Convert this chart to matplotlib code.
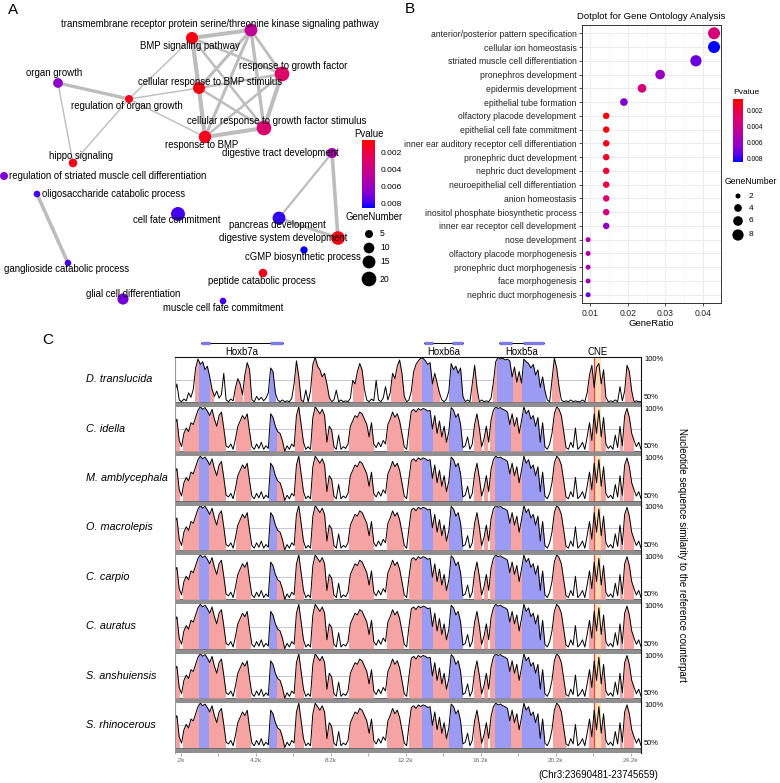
import numpy as np
import matplotlib
matplotlib.use("Agg")
import matplotlib.pyplot as plt
from matplotlib.colors import LinearSegmentedColormap, Normalize
from matplotlib.patches import Rectangle
from matplotlib.cm import ScalarMappable

plt.rcParams['font.family'] = ['Liberation Sans', 'DejaVu Sans']

# ---------------- panel A: GO network ----------------
net_terms = ["transmembrane receptor protein serine/threonine kinase signaling pathway",
             "BMP signaling pathway", "response to growth factor", "organ growth",
             "cellular response to BMP stimulus", "regulation of organ growth",
             "cellular response to growth factor stimulus", "response to BMP",
             "hippo signaling", "digestive tract development",
             "regulation of striated muscle cell differentiation",
             "oligosaccharide catabolic process", "cell fate commitment",
             "pancreas development", "digestive system development",
             "cGMP biosynthetic process", "ganglioside catabolic process",
             "peptide catabolic process", "glial cell differentiation",
             "muscle cell fate commitment"]
net_pvalue = [0.0045, 0.0010, 0.0030, 0.0065, 0.0010, 0.0012, 0.0032, 0.0012, 0.0012, 0.0055,
              0.0068, 0.0078, 0.0078, 0.0080, 0.0010, 0.0085, 0.0078, 0.0012, 0.0070, 0.0078]
net_genes = [15, 13, 20, 8, 13, 5, 20, 14, 6, 9, 5, 3, 18, 15, 17, 4, 3, 6, 11, 3]
# layout coordinates of the network (as drawn by the layout algorithm)
node_x = [251, 192, 282, 58, 199, 129, 264, 205, 73, 332, 4, 37, 178, 279, 338, 304, 68, 263, 123, 223]
node_y = [30, 38, 74, 83, 88, 99, 128, 137, 163, 153, 176, 194, 214, 218, 238, 250, 263, 273, 299, 301]
label_x = [220, 190, 293, 54, 210, 127, 277, 202, 81, 280, 108, 114, 177, 277, 283, 303, 67, 262, 133, 223]
label_y = [24, 46, 66, 73, 82, 106, 121, 145, 156, 153, 176, 194, 220, 225, 238, 257, 269, 281, 294, 308]
edges = [(3, 5, 2.4), (3, 8, 1.0), (5, 8, 1.0), (5, 1, 1.0), (5, 4, 1.0), (5, 7, 1.0),
         (1, 0, 2.9), (1, 4, 2.9), (1, 7, 2.5), (1, 2, 1.8), (1, 6, 1.8),
         (0, 2, 2.0), (0, 4, 2.2), (0, 6, 2.4), (0, 7, 2.2),
         (2, 4, 1.8), (2, 6, 2.9), (2, 7, 1.8), (4, 6, 1.8), (4, 7, 2.9), (6, 7, 2.9),
         (9, 13, 1.6), (9, 14, 2.6), (13, 14, 2.2), (11, 16, 2.6)]
net_legend_genes = [5, 10, 15, 20]

# ---------------- panel B: dotplot ----------------
dot_terms = ["anterior/posterior pattern specification", "cellular ion homeostasis",
             "striated muscle cell differentiation", "pronephros development",
             "epidermis development", "epithelial tube formation",
             "olfactory placode development", "epithelial cell fate commitment",
             "inner ear auditory receptor cell differentiation", "pronephric duct development",
             "nephric duct development", "neuroepithelial cell differentiation",
             "anion homeostasis", "inositol phosphate biosynthetic process",
             "inner ear receptor cell development", "nose development",
             "olfactory placode morphogenesis", "pronephric duct morphogenesis",
             "face morphogenesis", "nephric duct morphogenesis"]
dot_ratio = [0.0429, 0.0429, 0.0381, 0.0286, 0.0238, 0.0190, 0.0143, 0.0143, 0.0143, 0.0143,
             0.0143, 0.0143, 0.0143, 0.0143, 0.0143, 0.0095, 0.0095, 0.0095, 0.0095, 0.0095]
dot_genes = [9, 9, 8, 6, 5, 4, 3, 3, 3, 3, 3, 3, 3, 3, 3, 2, 2, 2, 2, 2]
dot_pvalue = [0.0035, 0.0085, 0.0072, 0.0062, 0.0035, 0.0068, 0.0008, 0.0009, 0.0011, 0.0015,
              0.0018, 0.0020, 0.0032, 0.0036, 0.0062, 0.0052, 0.0052, 0.0054, 0.0056, 0.0072]
dot_legend_genes = [2, 4, 6, 8]

# ---------------- panel C: VISTA plot ----------------
species = ["D. translucida", "C. idella", "M. amblycephala", "O. macrolepis",
           "C. carpio", "C. auratus", "S. anshuiensis", "S. rhinocerous"]
track_profile = ["translucida", "cyprinid", "cyprinid", "cyprinid",
                 "cyprinid", "cyprinid", "cyprinid", "cyprinid"]
sim_step = 0.125   # kb between similarity windows, first window at -0.125 kb
sim_translucida = [
    60, 70, 52, 50, 53, 51, 60, 55, 64, 88, 98, 92, 95, 86, 90, 78, 64, 56, 62, 54,
    58, 82, 52, 50, 53, 51, 66, 76, 70, 58, 80, 94, 86, 52, 50, 56, 52, 55, 51, 54,
    60, 88, 84, 60, 52, 50, 52, 50, 51, 50, 54, 70, 96, 78, 52, 50, 63, 50, 62, 92,
    100, 90, 86, 78, 82, 70, 55, 50, 52, 63, 50, 52, 50, 51, 50, 54, 74, 70, 84, 93,
    86, 64, 52, 50, 53, 51, 74, 52, 50, 54, 67, 52, 60, 82, 76, 90, 97, 82, 56, 50,
    52, 62, 84, 92, 96, 99, 99, 96, 92, 94, 70, 82, 71, 60, 52, 50, 53, 62, 93, 86,
    90, 82, 88, 56, 50, 52, 50, 70, 91, 66, 50, 52, 50, 51, 50, 54, 72, 95, 100, 98,
    99, 97, 98, 96, 78, 89, 72, 84, 71, 98, 95, 93, 88, 92, 80, 86, 66, 78, 62, 52,
    50, 74, 99, 88, 67, 52, 50, 51, 50, 52, 50, 51, 50, 50, 52, 50, 60, 80, 91, 66,
    89, 93, 70, 86, 55, 50, 51, 50, 52, 50, 67, 51, 62, 91, 84, 62, 50, 51, 50, 50]
sim_cyprinid = [
    80, 86, 62, 55, 70, 76, 72, 82, 80, 88, 96, 100, 97, 99, 95, 90, 97, 86, 78, 90,
    94, 76, 56, 54, 58, 52, 64, 78, 84, 90, 86, 92, 72, 55, 52, 58, 53, 60, 52, 56,
    53, 92, 88, 78, 72, 70, 62, 50, 56, 52, 58, 55, 90, 100, 80, 60, 52, 55, 52, 88,
    100, 96, 92, 97, 90, 60, 78, 74, 55, 52, 68, 52, 55, 53, 58, 78, 84, 90, 88, 94,
    92, 86, 80, 66, 82, 58, 54, 60, 55, 62, 58, 80, 86, 94, 88, 92, 84, 70, 55, 52,
    75, 95, 97, 94, 98, 96, 98, 97, 95, 96, 75, 90, 70, 84, 66, 78, 60, 72, 99, 96,
    88, 92, 80, 54, 56, 66, 52, 58, 80, 92, 76, 55, 64, 78, 60, 85, 96, 100, 98, 99,
    97, 96, 94, 80, 92, 78, 88, 70, 84, 100, 92, 96, 86, 90, 78, 88, 60, 82, 55, 52,
    58, 70, 92, 100, 97, 90, 72, 54, 52, 60, 54, 76, 52, 55, 60, 52, 66, 82, 62, 92,
    70, 96, 66, 88, 58, 53, 56, 52, 68, 54, 78, 56, 90, 98, 88, 70, 62, 55, 60, 52]
cns_translucida = [(0.95, 1.19), (1.72, 1.95), (3.1, 3.45), (3.6, 3.92), (6.28, 6.6), (7.18, 8.1),
                   (9.4, 9.95), (11.4, 12.1), (12.55, 13.05), (13.6, 14.0), (15.72, 16.0),
                   (16.85, 17.05), (17.85, 18.4), (19.98, 20.36), (21.94, 22.8), (23.9, 24.25)]
exon_translucida = [(1.19, 1.72), (4.9, 5.25), (13.05, 13.6), (14.5, 15.27), (17.05, 17.85), (18.4, 19.63)]
cns_cyprinid = [(-0.1, 0.1), (0.35, 1.19), (1.68, 2.55), (3.15, 3.9), (5.3, 5.72), (6.3, 6.72),
                (7.2, 8.3), (9.2, 10.45), (11.2, 12.05), (12.35, 13.05), (13.6, 14.5), (15.85, 16.2),
                (16.4, 16.55), (16.7, 16.95), (17.75, 18.4), (20.05, 20.7), (21.95, 22.85),
                (23.6, 23.72), (23.85, 24.3)]
exon_cyprinid = [(1.19, 1.68), (4.9, 5.3), (13.05, 13.6), (14.5, 15.2), (16.95, 17.75), (18.4, 19.6)]
genes = ["Hoxb7a", "Hoxb6a", "Hoxb5a"]
gene_exons = [[(1.26, 1.76), (4.96, 5.64)],
              [(13.17, 13.65), (14.67, 15.25)],
              [(17.17, 17.87), (18.45, 19.57)]]
cne_start, cne_end = 22.26, 22.62
tick_kb = [0.2, 4.2, 8.2, 12.2, 16.2, 20.2, 24.2]
tick_labels = [".2k", "4.2k", "8.2k", "12.2k", "16.2k", "20.2k", "24.2k"]
minor_kb = [2.2, 6.2, 10.2, 14.2, 18.2, 22.2]

profiles = {"translucida": sim_translucida, "cyprinid": sim_cyprinid}
cns = {"translucida": cns_translucida, "cyprinid": cns_cyprinid}
exons = {"translucida": exon_translucida, "cyprinid": exon_cyprinid}

W, H = 780, 783


def rect(x0, y0, x1, y1):
    return [x0 / W, 1 - y1 / H, (x1 - x0) / W, (y1 - y0) / H]


cmap = LinearSegmentedColormap.from_list(
    'pv', [(0, '#FF0000'), (0.25, '#E4005C'), (0.5, '#C00097'),
           (0.75, '#8E00CC'), (0.9, '#5000EB'), (1, '#0000FF')])
norm = Normalize(vmin=0.0006, vmax=0.0085)


def size_a(n):
    d = np.sqrt(13.5 + 10.1 * np.asarray(n, dtype=float))
    return (d * 0.72) ** 2


def size_b(n):
    d = np.sqrt(17 * np.asarray(n, dtype=float) - 9)
    return (d * 0.72) ** 2


fig = plt.figure(figsize=(W / 100, H / 100), dpi=100)

# ---- A ----
axA = fig.add_axes(rect(0, 0, 390, 380))
axA.set_xlim(0, 390)
axA.set_ylim(380, 0)
axA.axis('off')
for a, b, w in edges:
    axA.plot([node_x[a], node_x[b]], [node_y[a], node_y[b]], color='#BDBDBD',
             lw=w, solid_capstyle='round', zorder=1)
axA.scatter(node_x, node_y, s=size_a(net_genes), c=net_pvalue, cmap=cmap, norm=norm,
            linewidths=0, zorder=2)
for t, lx, ly in zip(net_terms, label_x, label_y):
    axA.text(lx, ly, t, fontsize=6.9, ha='center', va='center', zorder=3)

caxA = fig.add_axes(rect(362, 140, 375, 208))
cbA = fig.colorbar(ScalarMappable(norm=norm, cmap=cmap), cax=caxA)
cbA.set_ticks([0.002, 0.004, 0.006, 0.008])
cbA.set_ticklabels(['0.002', '0.004', '0.006', '0.008'])
caxA.invert_yaxis()
cbA.outline.set_visible(False)
caxA.tick_params(labelsize=6, length=0, pad=4)

# ---- B ----
axB = fig.add_axes(rect(582, 25, 721, 303))
rows = np.arange(1, len(dot_terms) + 1)
axB.set_xlim(0.00788, 0.04475)
axB.set_ylim(20.6, 0.4)
axB.set_axisbelow(True)
axB.set_xticks([0.01, 0.02, 0.03, 0.04])
axB.set_xticklabels(['0.01', '0.02', '0.03', '0.04'])
axB.set_xticks([0.015, 0.025, 0.035], minor=True)
axB.set_yticks(rows)
axB.set_yticklabels(dot_terms)
axB.grid(True, which='major', color='#EBEBEB', lw=0.7)
axB.grid(True, which='minor', axis='x', color='#F2F2F2', lw=0.4)
axB.tick_params(which='major', labelsize=6.2, length=2.5, width=0.6, color='#333333',
                labelcolor='#222222', pad=1.5)
axB.tick_params(which='minor', length=0)
for s in axB.spines.values():
    s.set_color('#333333')
    s.set_linewidth(0.7)
axB.scatter(dot_ratio, rows, s=size_b(dot_genes), c=dot_pvalue, cmap=cmap, norm=norm,
            linewidths=0, zorder=3)
axB.set_xlabel('GeneRatio', fontsize=6.8, labelpad=1)
axB.set_title('Dotplot for Gene Ontology Analysis', fontsize=6.8, pad=4)

caxB = fig.add_axes(rect(733, 99, 743, 162))
cbB = fig.colorbar(ScalarMappable(norm=norm, cmap=cmap), cax=caxB)
cbB.set_ticks([0.002, 0.004, 0.006, 0.008])
cbB.set_ticklabels(['0.002', '0.004', '0.006', '0.008'])
caxB.invert_yaxis()
cbB.outline.set_visible(False)
caxB.tick_params(labelsize=4.8, length=0, pad=3)

# ---- C ----
track_top0 = 357.3
track_h = 49.4
x_left, x_right = 175, 640.7
for i, sp in enumerate(species):
    top = track_top0 + i * track_h
    ax = fig.add_axes(rect(x_left, top, x_right, top + track_h))
    ax.set_xlim(-0.1, 24.73)
    ax.set_ylim(44.4, 100)
    key = track_profile[i]
    vals = np.maximum(np.array(profiles[key], dtype=float), 50)
    xs = -sim_step + sim_step * np.arange(len(vals))
    ax.axhspan(44.4, 50, facecolor='#8F8F8F', edgecolor='#5A5A5A', lw=0.6, zorder=1)
    ax.axhline(75, color='#C9C9DE', lw=0.8, zorder=0.5)
    for intervals, col in ((cns[key], '#F6A3A3'), (exons[key], '#9B9BF4')):
        for a, b in intervals:
            poly = ax.fill_between(xs, 50, vals, color=col, lw=0, zorder=1.5)
            clip = Rectangle((a, 50), b - a, 50, transform=ax.transData)
            poly.set_clip_path(clip)
    ax.fill_between([cne_start, cne_end], 50, 100, color='#FDE1B2', alpha=0.85, lw=0, zorder=1.8)
    ax.plot([cne_start, cne_start], [50, 100], color='#E04545', lw=0.9, zorder=1.9)
    ax.plot(xs, vals, color='black', lw=0.7, zorder=2)
    ax.spines['bottom'].set_visible(False)
    ax.spines['left'].set_color('#9A9A9A')
    ax.spines['right'].set_color('#111111')
    ax.spines['top'].set_color('#111111')
    for s in ('left', 'right', 'top'):
        ax.spines[s].set_linewidth(0.8)
    if i > 0:
        ax.spines['top'].set_visible(False)
    ax.set_yticks([])
    if i == len(species) - 1:
        ax.set_xticks(tick_kb)
        ax.set_xticklabels(tick_labels)
        ax.set_xticks(minor_kb, minor=True)
        ax.tick_params(axis='x', which='both', labelsize=4.6, length=2, width=0.5,
                       color='#888888', labelcolor='#666666', pad=2)
    else:
        ax.set_xticks([])
    fig.text(86 / W, 1 - (top + 22) / H, sp, fontsize=7.8, style='italic', ha='left', va='center')
    fig.text(644 / W, 1 - (top + 2.5) / H, '100%', fontsize=5.4, ha='left', va='center')
    fig.text(644 / W, 1 - (top + 40) / H, '50%', fontsize=5.4, ha='left', va='center')

axG = fig.add_axes(rect(x_left, 336, x_right, 357))
axG.set_xlim(-0.1, 24.73)
axG.set_ylim(21, 0)
axG.axis('off')
for g, ex in zip(genes, gene_exons):
    g0, g1 = ex[0][0], ex[-1][1]
    axG.plot([g0, g1], [7, 7], color='black', lw=0.7, zorder=1)
    for a, b in ex:
        axG.plot([a, b], [7, 7], color='#7B7BE6', lw=2.4, solid_capstyle='butt', zorder=2)
    axG.text((g0 + g1) / 2, 16, g, fontsize=6.9, ha='center', va='center')
axG.text((cne_start + cne_end) / 2, 16, 'CNE', fontsize=6.9, ha='center', va='center')

# ---- overlay: panel letters, legends, outer labels ----
ov = fig.add_axes([0, 0, 1, 1])
ov.set_xlim(0, W)
ov.set_ylim(H, 0)
ov.axis('off')
ov.text(13, 10, 'A', fontsize=11, ha='center', va='center')
ov.text(410, 9, 'B', fontsize=11, ha='center', va='center')
ov.text(48, 340, 'C', fontsize=11, ha='center', va='center')

ov.text(354, 134, 'Pvalue', fontsize=6.9, ha='left', va='center')
ov.text(345, 217, 'GeneNumber', fontsize=6.9, ha='left', va='center')
leg_y_a = [234, 248, 262, 279]
ov.scatter([369] * 4, leg_y_a, s=size_a(net_legend_genes), color='black', linewidths=0)
for n, yy in zip(net_legend_genes, leg_y_a):
    ov.text(380, yy, str(n), fontsize=6.2, ha='left', va='center')

ov.text(733, 92, 'Pvalue', fontsize=6.1, ha='left', va='center')
ov.text(725, 182, 'GeneNumber', fontsize=6.2, ha='left', va='center')
leg_y_b = [196, 208, 221, 235]
ov.scatter([738] * 4, leg_y_b, s=size_b(dot_legend_genes), color='black', linewidths=0)
for n, yy in zip(dot_legend_genes, leg_y_b):
    ov.text(749, yy, str(n), fontsize=6.0, ha='left', va='center')

ov.text(682, 555, 'Nucleotide sequence similarity to the reference counterpart',
        fontsize=7.0, rotation=270, ha='center', va='center')
ov.text(598, 775, '(Chr3:23690481-23745659)', fontsize=7.0, ha='center', va='center')

fig.savefig('out.png', dpi=100)
